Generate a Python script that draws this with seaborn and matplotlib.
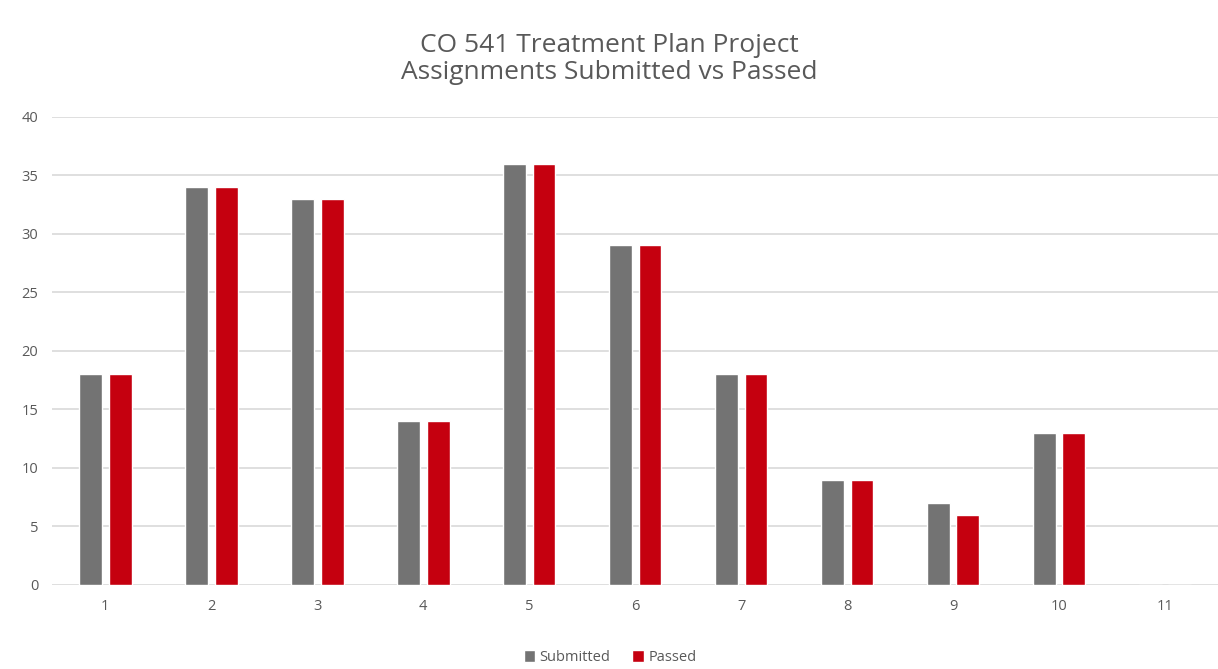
import pandas as pd
import seaborn as sns
import numpy as np
import matplotlib.pyplot as plt

# data
assignments = ["1", "2", "3", "4", "5", "6", "7", "8", "9", "10", "11"]
submitted = [18, 34, 33, 14, 36, 29, 18, 9, 7, 13, 0]
passed = [18, 34, 33, 14, 36, 29, 18, 9, 6, 13, 0]

df = pd.DataFrame({
    "Assignment": assignments * 2,
    "Count": submitted + passed,
    "Series": ["Submitted"] * len(assignments) + ["Passed"] * len(assignments),
})

sns.set_style("white")
plt.rcParams["font.family"] = ["Open Sans", "DejaVu Sans"]

fig = plt.figure(figsize=(12.18, 6.69), dpi=100)
ax = fig.add_axes([0.043, 0.1256, 0.957, 0.7])

sns.barplot(data=df, x="Assignment", y="Count", hue="Series",
            palette={"Submitted": "#737373", "Passed": "#C5000F"},
            saturation=1, width=0.56, gap=0.23, ax=ax, legend=True)

ax.set_ylim(0, 40)
ax.set_yticks(np.arange(0, 41, 5))
ax.yaxis.grid(True, color="#D9D9D9", linewidth=1.2)
ax.set_axisbelow(True)
ax.set_xlim(-0.5, 10.5)
for s in ax.spines.values():
    s.set_visible(False)
ax.tick_params(axis="both", length=0, labelsize=10.5, colors="#595959", pad=10)
ax.set_xlabel("")
ax.set_ylabel("")

fig.text(0.5, 0.912, "CO 541 Treatment Plan Project\nAssignments Submitted vs Passed",
         ha="center", va="center", fontsize=19, color="#595959", linespacing=1.1)

leg = ax.legend(loc="center", bbox_to_anchor=(0.5 - 0.043 / 2, -0.155), ncol=2, frameon=False,
                fontsize=10.5, handlelength=0.8, handleheight=0.8, handletextpad=0.3,
                columnspacing=1.5)
for t in leg.get_texts():
    t.set_color("#595959")

fig.savefig("out.png", dpi=100)
